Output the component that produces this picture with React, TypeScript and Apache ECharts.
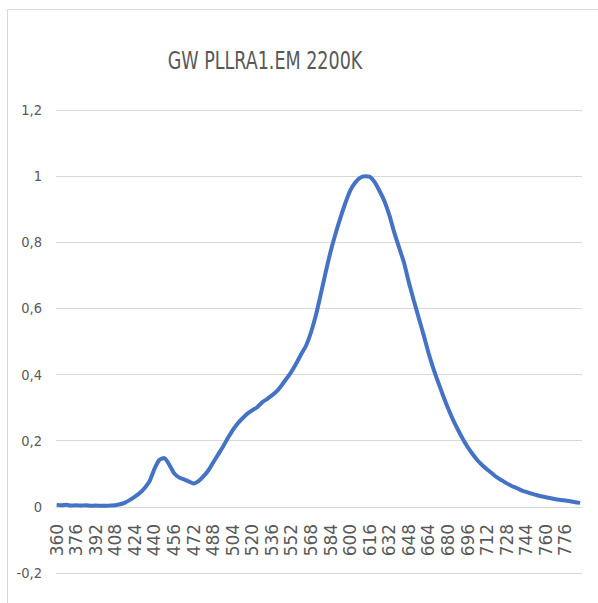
import React, { useEffect, useRef } from "react";
import * as echarts from "echarts";

const TITLE = "GW PLLRA1.EM 2200K";
const FIRST_NM = 360;
const LAST_NM = 789;
const categories: string[] = [];
for (let w = FIRST_NM; w <= LAST_NM; w++) categories.push(String(w));

const Y_MIN = -0.2;
const Y_MAX = 1.2;
const Y_STEP = 0.2;

const sampleNm = [
  360, 364, 368, 372, 376, 380, 384, 388, 392, 396, 400, 404, 408, 412, 416, 420, 424, 428,
  432, 436, 440, 444, 448, 452, 456, 460, 464, 468, 472, 476, 480, 484, 488, 492, 496, 500,
  504, 508, 512, 516, 520, 524, 528, 532, 536, 540, 544, 548, 552, 556, 560, 564, 568, 572,
  576, 580, 584, 588, 592, 596, 600, 604, 608, 612, 616, 620, 624, 628, 632, 636, 640, 644,
  648, 652, 656, 660, 664, 668, 672, 676, 680, 684, 688, 692, 696, 700, 704, 708, 712, 716,
  720, 724, 728, 732, 736, 740, 744, 748, 752, 756, 760, 764, 768, 772, 776, 780, 784, 788,
];
const intensity = [
  0.006, 0.005, 0.006, 0.004, 0.005, 0.004, 0.005, 0.003, 0.004, 0.003, 0.003, 0.004, 0.005,
  0.008, 0.013, 0.021, 0.031, 0.042, 0.057, 0.078, 0.115, 0.142, 0.148, 0.128, 0.102, 0.089,
  0.083, 0.077, 0.071, 0.078, 0.092, 0.11, 0.134, 0.158, 0.182, 0.208, 0.232, 0.252, 0.268,
  0.282, 0.292, 0.301, 0.316, 0.326, 0.337, 0.35, 0.368, 0.388, 0.409, 0.434, 0.462, 0.488,
  0.528, 0.58, 0.644, 0.71, 0.772, 0.826, 0.874, 0.918, 0.956, 0.98, 0.995, 1.0, 0.998, 0.982,
  0.955, 0.924, 0.882, 0.83, 0.784, 0.738, 0.678, 0.624, 0.572, 0.52, 0.466, 0.418, 0.376,
  0.336, 0.298, 0.264, 0.234, 0.206, 0.181, 0.16, 0.141, 0.126, 0.113, 0.101, 0.089, 0.08,
  0.071, 0.063, 0.057, 0.05, 0.045, 0.04, 0.036, 0.032, 0.029, 0.026, 0.023, 0.021, 0.019,
  0.017, 0.014, 0.012,
];

const NARROW = '"DejaVu Sans Condensed", "Liberation Sans", sans-serif';
const TEXT_COLOR = "#595959";
const GRID_COLOR = "#d9d9d9";

export default function App() {
  const ref = useRef<HTMLDivElement>(null);
  useEffect(() => {
    if (!ref.current) return;
    const chart = echarts.init(ref.current, null, { renderer: "svg" });
    const seriesData = sampleNm.map((w, i) => [String(w), intensity[i]]);
    chart.setOption({
      animation: false,
      backgroundColor: "#ffffff",
      graphic: [
        {
          type: "rect",
          left: 5,
          top: 7,
          shape: { width: 620, height: 595 },
          style: { fill: "none", stroke: GRID_COLOR, lineWidth: 1 },
          silent: true,
        },
        {
          type: "text",
          x: 265,
          y: 61,
          scaleX: 1,
          scaleY: 1.25,
          style: {
            text: TITLE,
            fontFamily: NARROW,
            fontSize: 19.5,
            fill: TEXT_COLOR,
            align: "center",
            verticalAlign: "middle",
          },
          silent: true,
        },
      ],
      grid: { left: 56, right: 16, top: 110, bottom: 30, outerBoundsMode: "none", containLabel: false },
      xAxis: {
        type: "category",
        data: categories,
        boundaryGap: true,
        axisLine: { onZero: true, lineStyle: { color: GRID_COLOR, width: 1 } },
        axisTick: { show: false },
        axisLabel: {
          interval: 15,
          rotate: 90,
          margin: 17,
          color: TEXT_COLOR,
          fontFamily: '"DejaVu Sans", sans-serif',
          fontSize: 17,
        },
        splitLine: { show: false },
      },
      yAxis: {
        type: "value",
        min: Y_MIN,
        max: Y_MAX,
        interval: Y_STEP,
        axisLine: { show: false },
        axisTick: { show: false },
        axisLabel: {
          margin: 14,
          color: TEXT_COLOR,
          fontFamily: NARROW,
          fontSize: 14.5,
          formatter: (v: number) => String(Math.round(v * 10) / 10).replace(".", ","),
        },
        splitLine: { lineStyle: { color: GRID_COLOR, width: 1 } },
      },
      series: [
        {
          type: "line",
          data: seriesData,
          showSymbol: false,
          smooth: 0.2,
          lineStyle: { color: "#4472C4", width: 4 },
          itemStyle: { color: "#4472C4" },
        },
      ],
    });
    // place the category axis on the zero line, measured through the value scale
    const zeroPx = chart.convertToPixel({ yAxisIndex: 0 }, 0) as number;
    const minPx = chart.convertToPixel({ yAxisIndex: 0 }, Y_MIN) as number;
    if (isFinite(zeroPx) && isFinite(minPx)) {
      chart.setOption({ xAxis: { offset: zeroPx - minPx } });
    }
    return () => chart.dispose();
  }, []);
  return (
    <div
      ref={ref}
      style={{ position: "fixed", left: 0, top: 0, width: 598, height: 603 }}
    />
  );
}
